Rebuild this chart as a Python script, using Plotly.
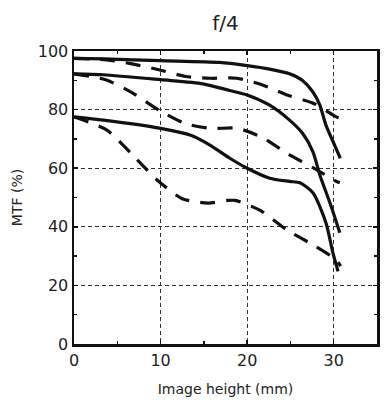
import plotly.graph_objects as go

# Image height (mm) sample points and MTF (%) values
x_s1 = [0, 3.4, 10, 16.8, 20, 22.6, 24.9, 26.4, 27.6, 28.4, 29.1, 30.1, 30.76]
y_s1 = [97.5, 97.3, 96.7, 96.1, 95.0, 93.8, 92.2, 89.9, 86.0, 81.5, 74.7, 67.9, 63.4]

x_d1 = [0, 3.8, 6.7, 9.8, 12.9, 15.8, 18.8, 21.7, 24.8, 27.7, 30.3, 30.76]
y_d1 = [97.5, 97.0, 95.6, 93.6, 91.3, 90.7, 90.7, 88.5, 84.8, 82.1, 77.5, 77.0]

x_s2 = [0, 3.4, 10, 14.9, 18, 20, 22.6, 24.9, 26.4, 27.6, 28.4, 29.7, 30.7]
y_s2 = [92.2, 91.9, 90.2, 88.8, 86.5, 85.0, 81.5, 76.4, 71.9, 65.6, 57.7, 47.0, 38.0]

x_d2 = [0, 3.65, 6.7, 9.8, 12.8, 15.8, 18.9, 21.8, 24.8, 27.7, 30.3, 30.7]
y_d2 = [92.2, 90.2, 85.8, 79.8, 75.3, 73.6, 73.6, 70.4, 64.7, 60.0, 55.5, 55.0]

x_s3 = [0, 3.4, 10, 13.4, 15.7, 18, 20, 22.6, 24.9, 26.1, 27.6, 29.1, 29.9, 30.5]
y_s3 = [77.5, 76.4, 73.6, 71.3, 67.9, 63.4, 60.0, 56.6, 55.5, 55.0, 51.6, 41.4, 31.2, 24.8]

x_d3 = [0, 3.8, 6.7, 9.6, 12.5, 15.5, 17.8, 18.6, 21.5, 24.6, 27.5, 30.2, 30.8]
y_d3 = [77.5, 73.0, 64.7, 56.0, 49.6, 48.1, 49.0, 49.0, 45.6, 38.9, 34.0, 28.9, 26.6]

series = [
    (x_s1, y_s1, "solid"), (x_d1, y_d1, "dash"),
    (x_s2, y_s2, "solid"), (x_d2, y_d2, "dash"),
    (x_s3, y_s3, "solid"), (x_d3, y_d3, "dash"),
]

x_ticks = [0, 10, 20, 30]
y_ticks = [0, 20, 40, 60, 80, 100]

FONT = "DejaVu Sans"
TXT = "#222222"

fig = go.Figure()
for xs, ys, d in series:
    fig.add_trace(go.Scatter(
        x=xs, y=ys, mode="lines",
        line=dict(color="#111111", width=3.2, shape="spline", smoothing=0.7,
                  dash="solid" if d == "solid" else "15px,11px"),
        showlegend=False, hoverinfo="skip",
    ))

axis_common = dict(
    showline=True, linecolor="#111111", linewidth=2.5, mirror="allticks",
    ticks="inside", ticklen=4, tickwidth=1.5, tickcolor="#111111",
    showgrid=True, gridcolor="#333333", gridwidth=1, griddash="4px,3px",
    zeroline=False, automargin=False,
    tickfont=dict(family=FONT, size=16, color=TXT),
    minor=dict(ticks="inside", ticklen=3, tickwidth=1.5, tickcolor="#111111", showgrid=False),
)

fig.update_layout(
    width=384, height=401,
    paper_bgcolor="white", plot_bgcolor="white",
    margin=dict(l=74, r=7, t=51, b=57),
    title=dict(text="f/4", x=0.5, xanchor="center", xref="paper",
               y=1 - 23 / 401, yanchor="middle",
               font=dict(family=FONT, size=20, color=TXT)),
    xaxis=dict(range=[0, 35], tickvals=x_ticks,
               title=dict(text="Image height (mm)", standoff=16,
                          font=dict(family=FONT, size=14, color=TXT)),
               **axis_common),
    yaxis=dict(range=[0, 100], tickvals=y_ticks,
               title=dict(text="MTF (%)", standoff=12,
                          font=dict(family=FONT, size=14, color=TXT)),
               **axis_common),
)
fig.update_xaxes(minor=dict(tickvals=[5, 15, 25]))
fig.update_yaxes(minor=dict(tickvals=[10, 30, 50, 70, 90]))

fig.write_html("out.html",
               config={"displayModeBar": False, "staticPlot": True},
               post_script="document.body.style.margin='0';document.body.style.overflow='hidden';")
